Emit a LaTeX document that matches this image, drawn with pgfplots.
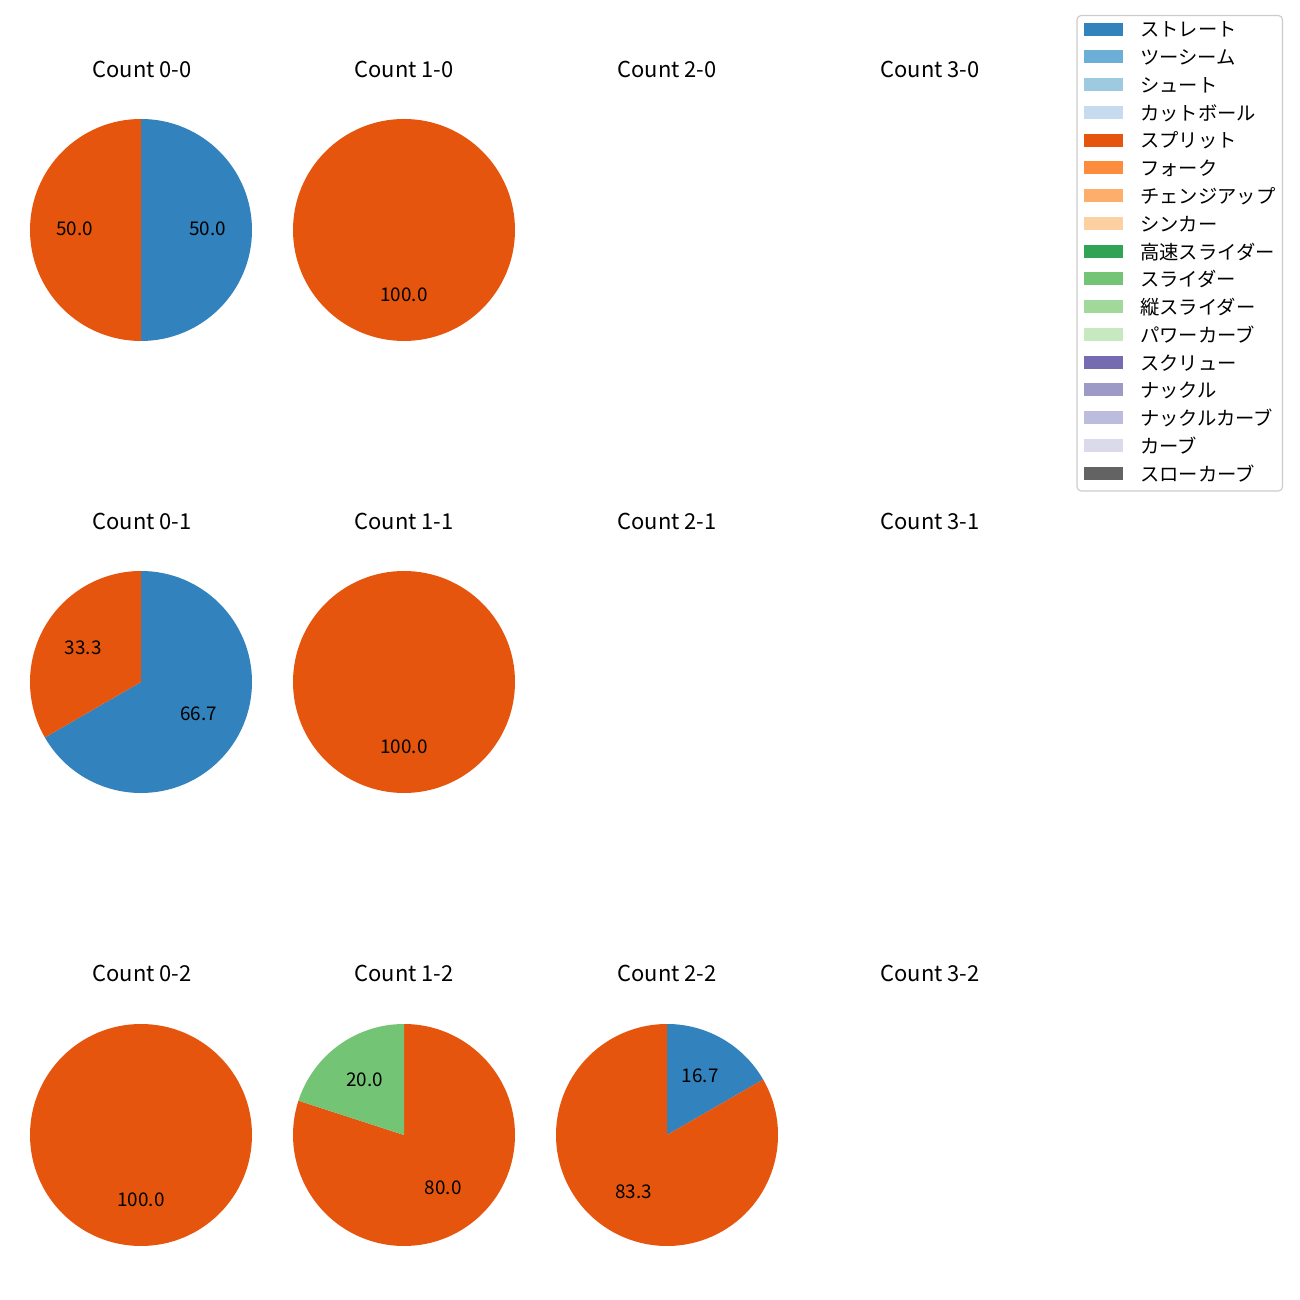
\documentclass[border=0pt]{standalone}
\usepackage{fontspec}
\setmainfont{Noto Sans CJK JP}
\usepackage{pgfplots}
\pgfplotsset{compat=1.18}
\definecolor{c1}{HTML}{3182BD}
\definecolor{c2}{HTML}{6BAED6}
\definecolor{c3}{HTML}{9ECAE1}
\definecolor{c4}{HTML}{C6DBEF}
\definecolor{c5}{HTML}{E6550D}
\definecolor{c6}{HTML}{FD8D3C}
\definecolor{c7}{HTML}{FDAE6B}
\definecolor{c8}{HTML}{FDD0A2}
\definecolor{c9}{HTML}{31A354}
\definecolor{c10}{HTML}{74C476}
\definecolor{c11}{HTML}{A1D99B}
\definecolor{c12}{HTML}{C7E9C0}
\definecolor{c13}{HTML}{756BB1}
\definecolor{c14}{HTML}{9E9AC8}
\definecolor{c15}{HTML}{BCBDDC}
\definecolor{c16}{HTML}{DADAEB}
\definecolor{c17}{HTML}{636363}
\newcommand{\labfont}{\fontsize{13.6}{16}\selectfont}
\newcommand{\legfont}{\fontsize{13.9}{16}\selectfont}
\newcommand{\titfont}{\fontsize{15.8}{18}\selectfont}
\pgfplotsset{pieax/.style={width=159.84pt,height=159.84pt,scale only axis,
  xmin=-1,xmax=1,ymin=-1,ymax=1,hide axis,clip=false,anchor=center}}
\tikzset{lab/.style={font=\labfont,yshift=1pt}}
\begin{document}
\begin{tikzpicture}
\path[use as bounding box] (0,0) rectangle (936pt,936pt);
% Row 0
\begin{axis}[pieax,at={(101.52pt,770.4pt)}]
\addplot[fill=c1,draw=none] coordinates {(0,0) (0,1)} arc[start angle=90,end angle=-90,radius=79.92pt] -- cycle;
\addplot[fill=c5,draw=none] coordinates {(0,0) (0,-1)} arc[start angle=-90,end angle=-270,radius=79.92pt] -- cycle;
\node[lab] at (axis cs:0.6,0) {50.0};
\node[lab] at (axis cs:-0.6,0) {50.0};
\end{axis}
\begin{axis}[pieax,at={(290.88pt,770.4pt)}]
\addplot[fill=c5,draw=none] coordinates {(0,0) (0,1)} arc[start angle=90,end angle=-270,radius=79.92pt] -- cycle;
\node[lab] at (axis cs:0,-0.6) {100.0};
\end{axis}
% Row 1
\begin{axis}[pieax,at={(101.52pt,444.96pt)}]
\addplot[fill=c1,draw=none] coordinates {(0,0) (0,1)} arc[start angle=90,end angle=-150,radius=79.92pt] -- cycle;
\addplot[fill=c5,draw=none] coordinates {(0,0) (-0.866,-0.5)} arc[start angle=-150,end angle=-270,radius=79.92pt] -- cycle;
\node[lab] at (axis cs:0.5196,-0.3) {66.7};
\node[lab] at (axis cs:-0.5196,0.3) {33.3};
\end{axis}
\begin{axis}[pieax,at={(290.88pt,444.96pt)}]
\addplot[fill=c5,draw=none] coordinates {(0,0) (0,1)} arc[start angle=90,end angle=-270,radius=79.92pt] -- cycle;
\node[lab] at (axis cs:0,-0.6) {100.0};
\end{axis}
% Row 2
\begin{axis}[pieax,at={(101.52pt,118.8pt)}]
\addplot[fill=c5,draw=none] coordinates {(0,0) (0,1)} arc[start angle=90,end angle=-270,radius=79.92pt] -- cycle;
\node[lab] at (axis cs:0,-0.6) {100.0};
\end{axis}
\begin{axis}[pieax,at={(290.88pt,118.8pt)}]
\addplot[fill=c5,draw=none] coordinates {(0,0) (0,1)} arc[start angle=90,end angle=-198,radius=79.92pt] -- cycle;
\addplot[fill=c10,draw=none] coordinates {(0,0) (-0.9511,0.3090)} arc[start angle=-198,end angle=-270,radius=79.92pt] -- cycle;
\node[lab] at (axis cs:0.3527,-0.4854) {80.0};
\node[lab] at (axis cs:-0.3527,0.4854) {20.0};
\end{axis}
\begin{axis}[pieax,at={(480.24pt,118.8pt)}]
\addplot[fill=c1,draw=none] coordinates {(0,0) (0,1)} arc[start angle=90,end angle=30,radius=79.92pt] -- cycle;
\addplot[fill=c5,draw=none] coordinates {(0,0) (0.8660,0.5)} arc[start angle=30,end angle=-270,radius=79.92pt] -- cycle;
\node[lab] at (axis cs:0.3,0.5196) {16.7};
\node[lab] at (axis cs:-0.3,-0.5196) {83.3};
\end{axis}
\begin{scope}[x=0.72pt,y=-0.72pt,shift={(0pt,936pt)}]
% titles
\foreach \r/\yy in {0/69,1/521,2/973}{
  \foreach \c/\xx in {0/142,1/404,2/667,3/930}{
    \node[font=\titfont] at (\xx,\yy+0.5) {Count \c-\r};
  }
}
% legend
\draw[draw=black!20,line width=0.8pt,rounded corners=3pt,fill=white] (1077,15.5) rectangle (1282.5,491);
\foreach \cc/\nn [count=\i from 0] in {c1/ストレート,c2/ツーシーム,c3/シュート,c4/カットボール,c5/スプリット,c6/フォーク,c7/チェンジアップ,c8/シンカー,c9/高速スライダー,c10/スライダー,c11/縦スライダー,c12/パワーカーブ,c13/スクリュー,c14/ナックル,c15/ナックルカーブ,c16/カーブ,c17/スローカーブ}{
  \pgfmathsetmacro\yy{29.2+27.75*\i}
  \fill[\cc] (1084,\yy-6.5) rectangle (1123,\yy+6.5);
  \node[anchor=west,font=\legfont,inner sep=0pt] at (1140,\yy+0.5) {\nn};
}
\end{scope}
\end{tikzpicture}
\end{document}
